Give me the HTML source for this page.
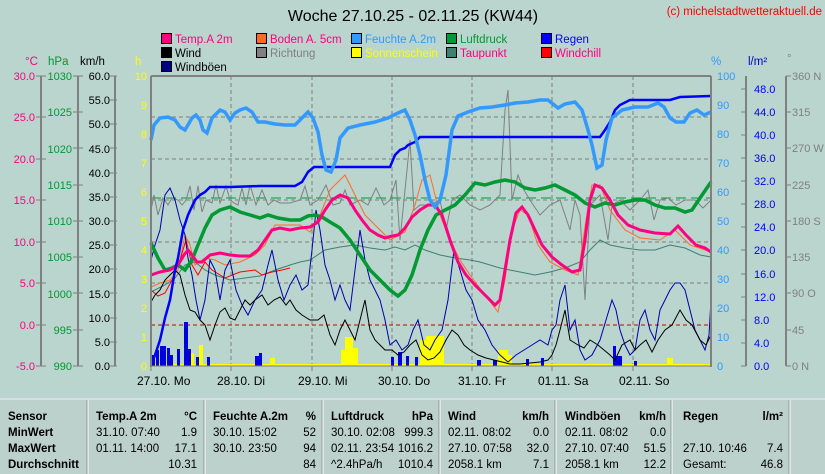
<!DOCTYPE html>
<html><head><meta charset="utf-8"><style>
body{margin:0;background:#b9d5cd;}
svg{display:block;font-family:"Liberation Sans",sans-serif;}
</style></head><body>
<svg width="825" height="474" viewBox="0 0 825 474" xmlns="http://www.w3.org/2000/svg">
<rect width="825" height="474" fill="#b9d5cd"/>
<text x="413" y="21" font-size="16" text-anchor="middle" fill="#000">Woche 27.10.25 - 02.11.25 (KW44)</text>
<text x="822" y="15" font-size="11.5" text-anchor="end" fill="#f00">(c) michelstadtwetteraktuell.de</text>
<g font-size="11.5">
<rect x="161.5" y="33.5" width="10" height="10" fill="#ff0080" stroke="#000"/><text x="175" y="43" fill="#ff0080">Temp.A 2m</text>
<rect x="161.5" y="47.5" width="10" height="10" fill="#000" stroke="#000"/><text x="175" y="57" fill="#000">Wind</text>
<rect x="161.5" y="61.5" width="10" height="10" fill="#000080" stroke="#000"/><text x="175" y="71" fill="#000">Windböen</text>
<rect x="256.5" y="33.5" width="10" height="10" fill="#ff6a2a" stroke="#000"/><text x="270" y="43" fill="#ff0080">Boden A. 5cm</text>
<rect x="256.5" y="47.5" width="10" height="10" fill="#808080" stroke="#000"/><text x="270" y="57" fill="#808080">Richtung</text>
<rect x="351.5" y="33.5" width="10" height="10" fill="#3399ff" stroke="#000"/><text x="365" y="43" fill="#3399ff">Feuchte A.2m</text>
<rect x="351.5" y="47.5" width="10" height="10" fill="#ffff00" stroke="#000"/><text x="365" y="57" fill="#ffff00">Sonnenschein</text>
<rect x="446.5" y="33.5" width="10" height="10" fill="#009933" stroke="#000"/><text x="460" y="43" fill="#009933">Luftdruck</text>
<rect x="446.5" y="47.5" width="10" height="10" fill="#408070" stroke="#000"/><text x="460" y="57" fill="#ff0080">Taupunkt</text>
<rect x="541.5" y="33.5" width="10" height="10" fill="#0000ff" stroke="#000"/><text x="555" y="43" fill="#0000ff">Regen</text>
<rect x="541.5" y="47.5" width="10" height="10" fill="#ff0000" stroke="#000"/><text x="555" y="57" fill="#ff0080">Windchill</text>
</g>
<g font-size="11.5">
<text x="25" y="65" fill="#ff0080">°C</text>
<text x="48" y="65" fill="#009933">hPa</text>
<text x="80" y="65" fill="#000">km/h</text>
<text x="135" y="65" fill="#ffff00">h</text>
<text x="711" y="65" fill="#3399ff">%</text>
<text x="748" y="65" fill="#0000cc">l/m²</text>
<text x="787" y="62" fill="#808080">°</text>
</g>
<g stroke="#808080" stroke-width="2" fill="none">
<line x1="41" y1="76" x2="41" y2="366"/><line x1="78" y1="76" x2="78" y2="366"/><line x1="115" y1="76" x2="115" y2="366"/>
<line x1="746" y1="76" x2="746" y2="366"/><line x1="786" y1="76" x2="786" y2="366"/>
</g>
<g font-size="11" text-anchor="end">
<g fill="#ff0080">
<text x="35" y="80">30.0</text><text x="35" y="121">25.0</text><text x="35" y="163">20.0</text><text x="35" y="204">15.0</text><text x="35" y="246">10.0</text><text x="35" y="287">5.0</text><text x="35" y="329">0.0</text><text x="35" y="370">-5.0</text>
</g>
<g fill="#009933">
<text x="72" y="80">1030</text><text x="72" y="116">1025</text><text x="72" y="153">1020</text><text x="72" y="189">1015</text><text x="72" y="225">1010</text><text x="72" y="261">1005</text><text x="72" y="298">1000</text><text x="72" y="334">995</text><text x="72" y="370">990</text>
</g>
<g fill="#000">
<text x="110" y="80">60.0</text><text x="110" y="104">55.0</text><text x="110" y="128">50.0</text><text x="110" y="153">45.0</text><text x="110" y="177">40.0</text><text x="110" y="201">35.0</text><text x="110" y="225">30.0</text><text x="110" y="249">25.0</text><text x="110" y="273">20.0</text><text x="110" y="298">15.0</text><text x="110" y="322">10.0</text><text x="110" y="346">5.0</text><text x="110" y="370">0.0</text>
</g>
<g fill="#ffff00">
<text x="147" y="80">10</text><text x="147" y="109">9</text><text x="147" y="138">8</text><text x="147" y="167">7</text><text x="147" y="196">6</text><text x="147" y="225">5</text><text x="147" y="254">4</text><text x="147" y="283">3</text><text x="147" y="312">2</text><text x="147" y="341">1</text><text x="147" y="370">0</text>
</g>
</g>
<g stroke="#808080" stroke-width="1">
<path d="M36 76h10M36 117h10M36 159h10M36 200h10M36 242h10M36 283h10M36 325h10M36 366h10"/>
<path d="M73 76h10M73 112h10M73 148h10M73 185h10M73 221h10M73 257h10M73 293h10M73 330h10M73 366h10"/>
<path d="M110 76h7M110 100h7M110 124h7M110 148h7M110 173h7M110 197h7M110 221h7M110 245h7M110 269h7M110 293h7M110 318h7M110 342h7M110 366h7"/>
<path d="M741 89h5M741 112h5M741 135h5M741 158h5M741 181h5M741 204h5M741 227h5M741 250h5M741 274h5M741 297h5M741 320h5M741 343h5M741 366h5"/>
<path d="M786 76h5M786 112h5M786 148h5M786 185h5M786 221h5M786 257h5M786 293h5M786 330h5M786 366h5"/>
</g>
<g font-size="11">
<g fill="#3399ff">
<text x="717" y="80">100</text><text x="717" y="109">90</text><text x="717" y="138">80</text><text x="717" y="167">70</text><text x="717" y="196">60</text><text x="717" y="225">50</text><text x="717" y="254">40</text><text x="717" y="283">30</text><text x="717" y="312">20</text><text x="717" y="341">10</text><text x="717" y="370">0</text>
</g>
<g fill="#0000ff">
<text x="754" y="93">48.0</text><text x="754" y="116">44.0</text><text x="754" y="139">40.0</text><text x="754" y="162">36.0</text><text x="754" y="185">32.0</text><text x="754" y="208">28.0</text><text x="754" y="231">24.0</text><text x="754" y="254">20.0</text><text x="754" y="278">16.0</text><text x="754" y="301">12.0</text><text x="754" y="324">8.0</text><text x="754" y="347">4.0</text><text x="754" y="370">0.0</text>
</g>
<g fill="#808080">
<text x="792" y="80">360 N</text><text x="792" y="116">315</text><text x="792" y="152">270 W</text><text x="792" y="189">225</text><text x="792" y="225">180 S</text><text x="792" y="261">135</text><text x="792" y="297">90  O</text><text x="792" y="334">45</text><text x="792" y="370">0  N</text>
</g>
</g>
<g stroke="#808080" stroke-dasharray="4,3" stroke-width="1">
<path d="M151 117H711M151 159H711M151 200H711M151 242H711M151 283H711"/>
<path d="M231 76V366M312 76V366M392 76V366M472 76V366M552 76V366M633 76V366"/>
</g>
<line x1="151" y1="325" x2="711" y2="325" stroke="#cc0000" stroke-dasharray="4,3"/>
<line x1="151" y1="198" x2="711" y2="198" stroke="#009933" stroke-dasharray="10,5"/>
<g fill="#ffff00">
<rect x="190" y="353" width="4" height="13"/><rect x="199" y="345" width="4" height="21"/>
<rect x="270" y="358" width="5" height="8"/>
<rect x="341" y="350" width="4" height="16"/><rect x="345" y="337" width="8" height="29"/><rect x="353" y="348" width="5" height="18"/>
<rect x="420" y="340" width="6" height="26"/><rect x="426" y="336" width="18" height="30"/>
<rect x="498" y="350" width="10" height="16"/><rect x="508" y="355" width="4" height="11"/>
<rect x="667" y="358" width="6" height="8"/>
<rect x="151" y="364" width="560" height="2"/>
</g>
<g fill="#0000dd">
<rect x="152" y="355" width="3" height="11"/><rect x="156" y="350" width="3" height="16"/><rect x="160" y="346" width="6" height="20"/><rect x="167" y="348" width="3" height="18"/><rect x="170" y="355" width="3" height="11"/><rect x="177" y="349" width="3" height="17"/><rect x="184" y="322" width="4" height="44"/><rect x="188" y="349" width="3" height="17"/><rect x="196" y="357" width="3" height="9"/><rect x="207" y="357" width="3" height="9"/>
<rect x="255" y="356" width="4" height="10"/><rect x="259" y="353" width="3" height="13"/>
<rect x="391" y="357" width="3" height="9"/><rect x="398" y="352" width="4" height="14"/><rect x="406" y="356" width="3" height="10"/><rect x="415" y="357" width="3" height="9"/>
<rect x="477" y="360" width="4" height="6"/><rect x="493" y="360" width="4" height="6"/>
<rect x="526" y="359" width="3" height="7"/><rect x="541" y="358" width="3" height="8"/>
<rect x="613" y="346" width="3" height="20"/><rect x="616" y="356" width="6" height="10"/><rect x="634" y="361" width="3" height="5"/>
</g>
<polyline fill="none" stroke="#808080" stroke-width="1" points="151,210 154,195 158,215 163,198 168,205 172,198 178,200 182,205 186,200 190,186 194,210 198,186 202,212 206,200 212,203 216,185 220,203 226,186 230,200 234,203 238,205 242,188 246,205 250,185 256,205 262,190 268,205 274,200 280,203 290,203 300,200 305,186 310,205 318,200 326,185 333,205 340,203 345,190 350,205 360,200 368,205 376,188 384,205 390,200 396,180 400,240 405,190 410,140 414,210 420,205 430,205 440,200 446,230 452,200 460,195 470,205 480,210 490,205 500,195 505,110 508,90 512,200 518,175 524,190 530,200 540,215 550,205 560,200 570,230 575,200 580,215 585,300 590,205 600,195 608,240 612,205 620,200 630,210 640,200 648,190 654,220 660,200 668,198 676,205 685,200 695,200 703,208 711,200"/>
<polyline fill="none" stroke="#408070" stroke-width="1" points="151,292 165,285 175,278 185,265 195,262 205,270 215,275 230,280 245,278 260,276 275,270 290,265 300,262 310,260 325,250 340,247 355,245 370,248 385,250 395,247 405,250 415,245 425,250 440,255 455,258 470,260 480,262 500,268 520,272 535,275 550,272 565,268 580,262 590,250 600,240 610,245 625,248 640,250 655,250 670,245 685,248 700,255 711,257"/>
<polyline fill="none" stroke="#ff6a2a" stroke-width="1" points="151,287 160,283 170,280 178,270 185,235 190,245 195,265 205,258 215,260 225,265 240,262 255,255 265,245 275,225 285,225 300,225 310,232 320,215 330,190 345,175 355,195 365,215 375,225 390,240 405,232 415,205 422,180 430,175 440,215 450,240 460,260 470,275 485,295 498,312 505,280 512,230 520,210 528,215 538,245 550,262 565,270 578,275 586,220 592,185 600,185 610,210 625,230 640,238 660,240 675,230 690,245 711,252"/>
<polyline fill="none" stroke="#ff0000" stroke-width="1" points="151,290 158,296 165,293 172,280 180,260 186,240 192,265 198,275 205,262 212,270 225,278 240,272 255,270 262,275 272,272 282,270 290,268"/>
<polyline fill="none" stroke="#0000aa" stroke-width="1" points="151,260 155,245 160,230 165,195 170,188 175,200 180,220 185,235 188,258 192,275 196,300 200,320 205,300 210,260 215,270 220,300 225,270 230,260 236,290 242,305 248,315 255,300 262,290 268,265 272,250 278,280 284,300 290,285 296,275 302,290 308,285 312,250 316,210 320,230 325,265 330,280 335,300 340,285 345,300 350,310 355,270 360,230 365,260 370,280 375,290 380,300 385,320 390,345 396,340 402,350 408,345 413,330 418,320 424,345 430,350 435,340 442,330 448,300 454,250 460,270 466,290 472,300 478,320 485,330 492,345 500,355 508,362 516,355 524,350 532,345 540,340 548,345 552,330 556,325 560,300 565,285 570,330 575,320 580,350 585,360 592,355 600,340 606,320 612,300 616,310 620,330 625,345 630,355 635,350 640,320 645,310 650,330 655,340 660,310 665,300 670,290 675,283 680,283 685,290 690,310 695,330 700,340 705,350 709,335 711,300"/>
<polyline fill="none" stroke="#000" stroke-width="1" points="151,302 155,295 160,290 165,280 170,275 175,270 180,275 185,295 190,310 195,312 200,320 205,325 210,340 215,325 220,312 225,308 230,318 235,320 240,310 245,300 250,305 255,300 262,295 268,305 274,300 280,297 286,305 290,300 296,310 302,315 310,320 318,320 324,315 330,335 335,345 340,330 345,320 350,330 355,340 360,320 365,300 370,330 375,340 380,345 385,350 392,350 398,355 404,352 410,345 416,340 422,355 428,360 434,358 440,352 446,340 452,330 458,335 464,345 470,350 478,355 486,358 494,360 502,362 510,364 520,364 530,363 540,362 548,360 552,355 556,345 560,330 565,310 570,340 578,345 584,348 590,340 598,345 604,350 610,355 615,360 622,345 630,340 635,350 640,345 646,340 652,352 658,340 665,330 672,325 680,310 686,320 692,325 700,340 706,345 711,335"/>
<polyline fill="none" stroke="#009933" stroke-width="3.5" points="151,243 158,258 165,270 172,268 178,265 185,270 192,260 198,245 205,228 212,215 220,210 230,207 240,212 250,215 260,218 268,215 278,218 290,220 300,220 308,216 315,215 322,217 330,222 340,228 350,240 360,255 370,270 380,280 390,290 398,296 405,290 412,275 420,250 428,230 436,215 445,210 455,205 465,195 475,183 485,185 495,182 505,180 515,182 525,188 535,190 545,188 555,185 565,190 575,195 585,203 595,207 605,203 615,205 625,202 635,200 645,200 655,205 665,208 675,208 685,212 692,210 700,198 711,182"/>
<polyline fill="none" stroke="#ff0080" stroke-width="3" points="151,275 160,272 170,270 178,265 184,255 188,250 192,255 197,262 202,262 210,255 220,253 230,255 240,256 250,256 258,250 265,240 272,230 280,228 290,230 300,228 310,227 318,222 325,210 332,200 340,195 348,198 355,210 362,220 370,230 378,235 385,238 392,236 398,235 405,228 412,217 420,210 428,205 435,205 442,215 450,240 458,262 466,275 475,285 485,295 495,305 500,300 505,270 510,240 516,213 522,207 528,215 535,230 542,245 552,257 562,265 572,272 580,270 585,240 590,200 595,185 602,188 610,200 618,215 628,225 640,230 655,233 670,234 678,226 686,235 696,245 705,248 711,252"/>
<polyline fill="none" stroke="#0000ff" stroke-width="2.5" points="151,366 155,355 160,340 165,318 170,300 175,270 178,258 183,230 188,215 195,200 200,195 205,192 210,187 230,187 260,186 295,186 302,182 308,172 314,167 390,167 395,155 400,150 405,148 408,145 415,142 420,137 600,137 605,130 610,122 615,110 620,105 630,100 670,100 680,97 711,96"/>
<polyline fill="none" stroke="#3399ff" stroke-width="3.5" points="151,140 154,125 160,118 168,117 175,120 180,127 185,130 192,118 196,115 200,120 203,130 207,133 212,118 216,114 220,110 225,112 230,120 235,113 240,110 246,108 252,112 258,122 265,122 275,124 285,125 295,125 302,118 308,112 313,118 318,132 322,155 326,170 331,172 336,160 340,138 348,128 360,125 375,122 388,118 398,113 405,110 410,120 415,135 420,155 425,180 430,200 435,207 440,200 446,175 452,130 458,116 468,112 480,108 492,107 505,105 515,103 528,102 540,100 548,100 553,104 558,108 565,104 575,102 582,110 588,130 592,145 597,168 602,165 606,140 612,118 622,110 635,107 648,107 658,103 664,107 670,118 676,122 684,122 690,113 697,110 704,115 711,112"/>
<line x1="151" y1="76" x2="711" y2="76" stroke="#808080" stroke-width="2"/>
<line x1="151" y1="76" x2="151" y2="367" stroke="#808080" stroke-width="2"/>
<line x1="711" y1="76" x2="711" y2="367" stroke="#808080" stroke-width="2"/>
<line x1="151" y1="366" x2="711" y2="366" stroke="#808080" stroke-width="1"/>
<g stroke="#808080"><path d="M151 366v5M231 366v5M312 366v5M392 366v5M472 366v5M552 366v5M633 366v5"/></g>
<g font-size="12" fill="#000">
<text x="137" y="385">27.10.  Mo</text><text x="217" y="385">28.10.  Di</text><text x="298" y="385">29.10.  Mi</text><text x="378" y="385">30.10.  Do</text><text x="458" y="385">31.10.  Fr</text><text x="538" y="385">01.11.  Sa</text><text x="619" y="385">02.11.  So</text>
</g>
<rect x="0" y="398" width="825" height="76" fill="#bcd1cc"/>
<line x1="0" y1="399" x2="825" y2="399" stroke="#eef" stroke-width="1"/>
<g stroke="#fff" stroke-width="1"><path d="M88 400V474M205 400V474M323 400V474M440 400V474M556 400V474M672 400V474M790 400V474"/></g>
<g stroke="#8a9a96" stroke-width="1"><path d="M87 400V474M204 400V474M322 400V474M439 400V474M555 400V474M671 400V474M789 400V474"/></g>
<g font-size="11.5" fill="#000">
<g font-weight="bold">
<text x="8" y="420">Sensor</text><text x="8" y="436">MinWert</text><text x="8" y="452">MaxWert</text><text x="8" y="468">Durchschnitt</text>
<text x="96" y="420">Temp.A 2m</text><text x="197" y="420" text-anchor="end">°C</text>
<text x="213" y="420">Feuchte A.2m</text><text x="316" y="420" text-anchor="end">%</text>
<text x="331" y="420">Luftdruck</text><text x="433" y="420" text-anchor="end">hPa</text>
<text x="448" y="420">Wind</text><text x="549" y="420" text-anchor="end">km/h</text>
<text x="565" y="420">Windböen</text><text x="666" y="420" text-anchor="end">km/h</text>
<text x="683" y="420">Regen</text><text x="783" y="420" text-anchor="end">l/m²</text>
</g>
<text x="96" y="436">31.10.  07:40</text><text x="197" y="436" text-anchor="end">1.9</text>
<text x="96" y="452">01.11.  14:00</text><text x="197" y="452" text-anchor="end">17.1</text>
<text x="197" y="468" text-anchor="end">10.31</text>
<text x="213" y="436">30.10.  15:02</text><text x="316" y="436" text-anchor="end">52</text>
<text x="213" y="452">30.10.  23:50</text><text x="316" y="452" text-anchor="end">94</text>
<text x="316" y="468" text-anchor="end">84</text>
<text x="331" y="436">30.10.  02:08</text><text x="433" y="436" text-anchor="end">999.3</text>
<text x="331" y="452">02.11.  23:54</text><text x="433" y="452" text-anchor="end">1016.2</text>
<text x="331" y="468">^2.4hPa/h</text><text x="433" y="468" text-anchor="end">1010.4</text>
<text x="448" y="436">02.11.  08:02</text><text x="549" y="436" text-anchor="end">0.0</text>
<text x="448" y="452">27.10.  07:58</text><text x="549" y="452" text-anchor="end">32.0</text>
<text x="448" y="468">2058.1 km</text><text x="549" y="468" text-anchor="end">7.1</text>
<text x="565" y="436">02.11.  08:02</text><text x="666" y="436" text-anchor="end">0.0</text>
<text x="565" y="452">27.10.  07:40</text><text x="666" y="452" text-anchor="end">51.5</text>
<text x="565" y="468">2058.1 km</text><text x="666" y="468" text-anchor="end">12.2</text>
<text x="683" y="452">27.10.  10:46</text><text x="783" y="452" text-anchor="end">7.4</text>
<text x="683" y="468">Gesamt:</text><text x="783" y="468" text-anchor="end">46.8</text>
</g>
</svg>
</body></html>
